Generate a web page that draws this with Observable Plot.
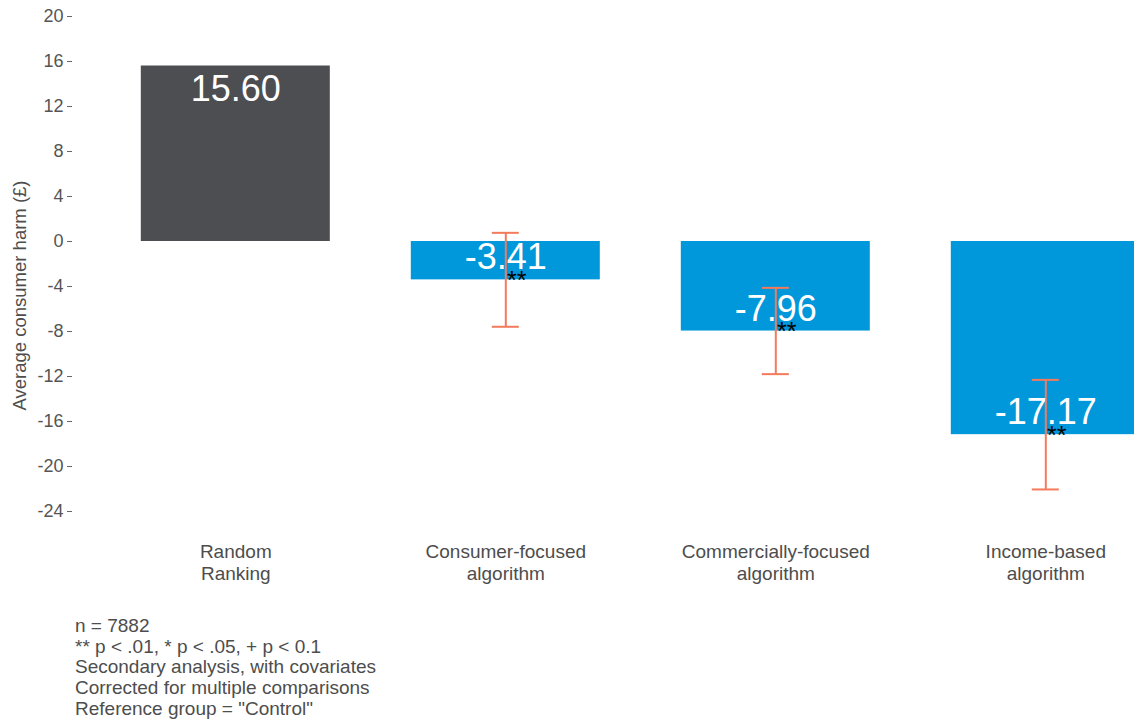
<!DOCTYPE html>
<html><head><meta charset="utf-8">
<script src="https://cdn.jsdelivr.net/npm/d3@7"></script>
<script src="https://cdn.jsdelivr.net/npm/@observablehq/plot@0.6"></script>
<style>
body{margin:0;background:#fff;font-family:"Liberation Sans",Arial,sans-serif;}
#wrap{position:relative;width:1134px;height:724px;overflow:hidden;background:#fff;}
#caption{position:absolute;left:75px;top:616px;font-size:19px;line-height:20.7px;color:#4d4d4d;white-space:pre;}
</style></head><body><div id="wrap"><div id="chart"></div><div id="caption"></div></div>
<script>
const groups = ["Random\nRanking","Consumer-focused\nalgorithm","Commercially-focused\nalgorithm","Income-based\nalgorithm"];
const values = [15.60, -3.41, -7.96, -17.17];
const ciLow = [null, -7.58, -11.79, -22.04];
const ciHigh = [null, 0.77, -4.12, -12.30];
const significance = ["", "**", "**", "**"];
const barColors = ["#4d4e52", "#0098da", "#0098da", "#0098da"];
const yTicks = [20, 16, 12, 8, 4, 0, -4, -8, -12, -16, -20, -24];
const yTitle = "Average consumer harm (£)";
const captionLines = [
  "n = 7882",
  "** p < .01, * p < .05, + p < 0.1",
  "Secondary analysis, with covariates",
  "Corrected for multiple comparisons",
  "Reference group = \"Control\""
];

const data = groups.map((g, i) => ({group: g, value: values[i], lo: ciLow[i], hi: ciHigh[i], sig: significance[i], color: barColors[i]}));
const errData = data.filter(d => d.lo != null);
const fmt = v => v.toFixed(2);
const textCol = "#4d4d4d";
const font = "Liberation Sans, Arial, sans-serif";

const chart = Plot.plot({
  width: 1134,
  height: 600,
  marginLeft: 72,
  marginRight: 0,
  marginTop: 0,
  marginBottom: 66.5,
  style: {fontFamily: font, background: "#fff", overflow: "hidden"},
  x: {domain: groups, range: [73.3, 1207.3], paddingInner: 0.3, paddingOuter: 0.25, round: false, axis: null},
  y: {domain: [-26, 21], range: [533.5, 4.75], axis: null},
  color: {type: "identity"},
  marks: [
    Plot.barY(data, {x: "group", y: "value", fill: "color"}),
    Plot.ruleX(errData, {x: "group", y1: "lo", y2: "hi", stroke: "#f47a5c", strokeWidth: 2}),
    Plot.tickY(errData, {x: "group", y: "lo", stroke: "#f47a5c", strokeWidth: 2, insetLeft: 81, insetRight: 81}),
    Plot.tickY(errData, {x: "group", y: "hi", stroke: "#f47a5c", strokeWidth: 2, insetLeft: 81, insetRight: 81}),
    Plot.text(data.filter(d => d.value >= 0), {x: "group", y: "value", text: d => fmt(d.value), fill: "white", fontSize: 36, dy: 23.5}),
    Plot.text(data.filter(d => d.value < 0), {x: "group", y: "value", text: d => fmt(d.value), fill: "white", fontSize: 36, dy: -22}),
    Plot.text(data.filter(d => d.sig), {x: "group", y: "value", text: "sig", fill: "black", fontSize: 25, dx: 11, dy: 1}),
    Plot.axisY({ticks: yTicks, tickFormat: d => String(d), tickSize: 5, tickPadding: 4, fontSize: 18, color: "#555", stroke: "#666", label: null}),
    Plot.text(groups, {x: d => d, frameAnchor: "bottom", lineAnchor: "top", dy: 8.5, fontSize: 19, lineHeight: 1.16, fill: textCol}),
    Plot.text([yTitle], {frameAnchor: "left", textAnchor: "middle", rotate: -90, dx: -52, dy: 28.25, fontSize: 18.5, fill: textCol})
  ]
});
document.getElementById("chart").appendChild(chart);
document.getElementById("caption").textContent = captionLines.join("\n");
</script>
</body></html>
